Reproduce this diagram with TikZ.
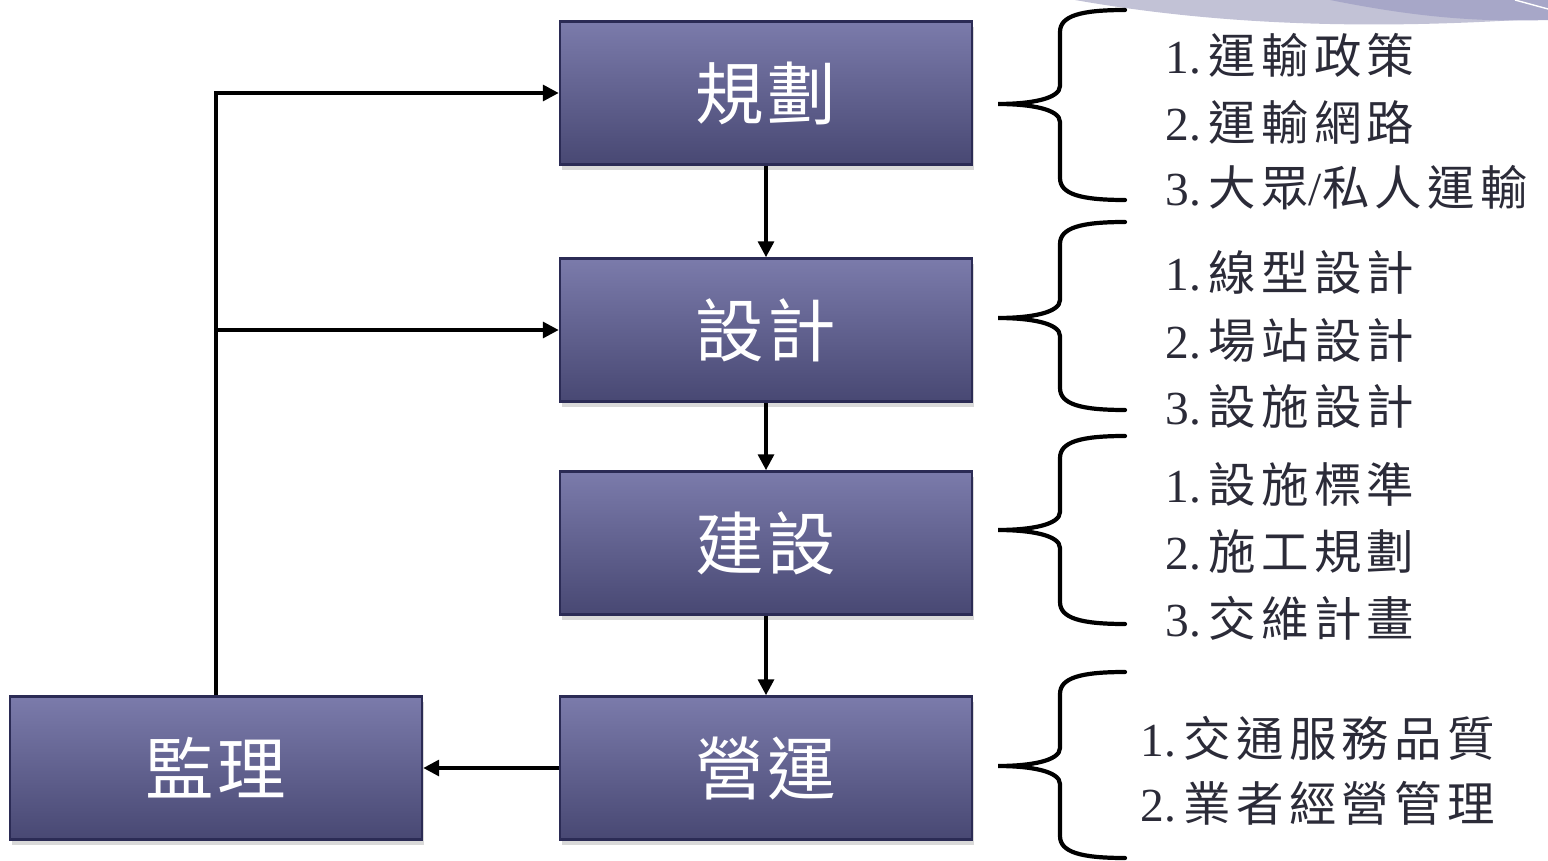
\documentclass[tikz,border=0pt]{standalone}
\usepackage{fontspec}
\setmainfont{Liberation Serif}
\newfontfamily\cjk{Noto Sans CJK TC}[LetterSpace=11]
\newfontfamily\cjkbox{Noto Sans CJK TC}[LetterSpace=6]
\usetikzlibrary{shadows,arrows.meta}
\definecolor{boxtop}{HTML}{7B7BAB}
\definecolor{boxbot}{HTML}{484873}
\definecolor{boxedge}{HTML}{2B2B55}
\definecolor{itemtext}{HTML}{2B2B38}
\definecolor{swooshlight}{HTML}{C2C2D6}
\definecolor{swooshdark}{HTML}{A7A7C8}
\begin{document}
\begin{tikzpicture}[x=0.02cm,y=-0.02cm,
  stagebox/.style={draw=boxedge, line width=1.5pt, top color=boxtop, bottom color=boxbot,
    minimum width=8.24cm, minimum height=2.86cm, inner sep=0pt,
    drop shadow={opacity=0.3, shadow xshift=1pt, shadow yshift=-3pt},
    text=white, font=\fontsize{39pt}{42pt}\selectfont\cjkbox},
  conn/.style={line width=2pt, -{Triangle[length=9pt,width=9pt]}},
  bracestyle/.style={line width=2.4pt, line cap=round},
  item/.style={anchor=west, text=itemtext, inner sep=0pt, font=\fontsize{27pt}{32pt}\selectfont}
]
\useasboundingbox (0,0) rectangle (1548,861);
% decorative swoosh
\fill[swooshlight] (1075,0) .. controls (1200,22) and (1350,32) .. (1548,18) -- (1548,0) -- cycle;
\fill[swooshdark] (1330,0) .. controls (1420,18) and (1480,22) .. (1548,20) -- (1548,0) -- cycle;
\draw[white, line width=0.8pt] (1515,0) -- (1548,9);

% boxes
\node[stagebox] (plan) at (766,93) {規劃};
\node[stagebox] (design) at (766,330) {設計};
\node[stagebox] (build) at (766,543) {建設};
\node[stagebox] (operate) at (766,768) {營運};
\node[stagebox] (monitor) at (216,768) {監理};

% connectors
\draw[conn] (plan.south) -- (design.north);
\draw[conn] (design.south) -- (build.north);
\draw[conn] (build.south) -- (operate.north);
\draw[conn] (operate.west) -- (monitor.east);
\draw[conn] (monitor.north) |- (plan.west);
\coordinate (branch) at (monitor.north |- design.west);
\draw[conn] (branch) -- (design.west);

% braces
\foreach \t/\m/\b in {10/104/200, 222/318/410, 436/530/624, 672/766/858}{
  \draw[bracestyle] (1125,\t) .. controls (1080,\t) and (1060,\t+6) .. (1060,\t+22)
    -- (1060,\m-18) .. controls (1060,\m-5) and (1030,\m) .. (998,\m)
    .. controls (1030,\m) and (1060,\m+5) .. (1060,\m+18)
    -- (1060,\b-22) .. controls (1060,\b-6) and (1080,\b) .. (1125,\b);
}

% items
\node[item] (p1) at (1165,55) {1.\,{\cjk 運輸政策}};
\node[item] (p2) at (1165,122) {2.\,{\cjk 運輸網路}};
\node[item] (p3) at (1165,188) {3.\,{\cjk 大眾}/{\cjk 私人運輸}};
\node[item] (d1) at (1165,272) {1.\,{\cjk 線型設計}};
\node[item] (d2) at (1165,340) {2.\,{\cjk 場站設計}};
\node[item] (d3) at (1165,406) {3.\,{\cjk 設施設計}};
\node[item] (b1) at (1165,484) {1.\,{\cjk 設施標準}};
\node[item] (b2) at (1165,551) {2.\,{\cjk 施工規劃}};
\node[item] (b3) at (1165,618) {3.\,{\cjk 交維計畫}};
\node[item] (o1) at (1140,738) {1.\,{\cjk 交通服務品質}};
\node[item] (o2) at (1140,803) {2.\,{\cjk 業者經營管理}};
\end{tikzpicture}
\end{document}
